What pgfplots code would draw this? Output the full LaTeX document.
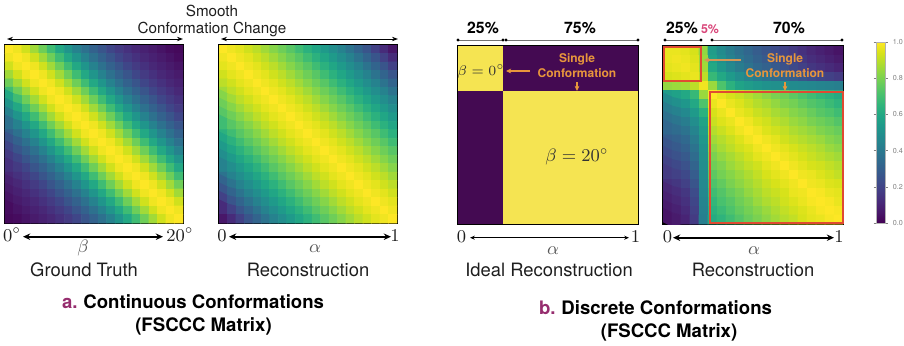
\documentclass[border=0pt]{standalone}
\usepackage{pgfplots}
\pgfplotsset{compat=1.18}
\usepackage{fontspec}
\setmainfont{TeX Gyre Heros}
\usetikzlibrary{arrows.meta}
\definecolor{orng}{HTML}{E8963C}
\definecolor{orng2}{HTML}{D49656}
\definecolor{rbox}{HTML}{E04A32}
\definecolor{pnk}{HTML}{D9467A}
\definecolor{plab}{HTML}{962D6E}
\definecolor{txt}{HTML}{1E1E1E}
\definecolor{vyel}{HTML}{F5E452}
\definecolor{vpur}{HTML}{440A52}
\newcommand{\fs}[2]{\fontsize{#1}{#2}\selectfont}
\pgfplotsset{
  hm/.style={anchor=north west, scale only axis, ticks=none,
    axis line style={line width=0.9pt, black},
    y dir=reverse, enlargelimits=false, colormap/viridis,
    point meta min=0, point meta max=1},
}
\begin{document}
\begin{tikzpicture}
% ---------------- Panel a1: Ground Truth ----------------
\begin{axis}[hm, at={(2.5pt,-22.5pt)}, width=89pt, height=89pt,
  xmin=-0.5, xmax=20.5, ymin=-0.5, ymax=20.5]
\addplot[matrix plot*, mesh/cols=21, point meta=explicit] table[header=false, row sep=\\,
  x expr={mod(\coordindex,21)}, y expr={floor(\coordindex/21)}, meta index=0]{
1.00\\0.98\\0.93\\0.86\\0.78\\0.69\\0.60\\0.52\\0.44\\0.37\\0.31\\0.26\\0.21\\0.17\\0.14\\0.11\\0.09\\0.07\\0.05\\0.03\\0.02\\
0.98\\1.00\\0.98\\0.93\\0.86\\0.78\\0.69\\0.60\\0.52\\0.44\\0.37\\0.31\\0.26\\0.21\\0.17\\0.14\\0.11\\0.09\\0.07\\0.05\\0.03\\
0.93\\0.98\\1.00\\0.98\\0.93\\0.86\\0.78\\0.69\\0.60\\0.52\\0.44\\0.37\\0.31\\0.26\\0.21\\0.17\\0.14\\0.11\\0.09\\0.07\\0.05\\
0.86\\0.93\\0.98\\1.00\\0.98\\0.93\\0.86\\0.78\\0.69\\0.60\\0.52\\0.44\\0.37\\0.31\\0.26\\0.21\\0.17\\0.14\\0.11\\0.09\\0.07\\
0.78\\0.86\\0.93\\0.98\\1.00\\0.98\\0.93\\0.86\\0.78\\0.69\\0.60\\0.52\\0.44\\0.37\\0.31\\0.26\\0.21\\0.17\\0.14\\0.11\\0.09\\
0.69\\0.78\\0.86\\0.93\\0.98\\1.00\\0.98\\0.93\\0.86\\0.78\\0.69\\0.60\\0.52\\0.44\\0.37\\0.31\\0.26\\0.21\\0.17\\0.14\\0.11\\
0.60\\0.69\\0.78\\0.86\\0.93\\0.98\\1.00\\0.98\\0.93\\0.86\\0.78\\0.69\\0.60\\0.52\\0.44\\0.37\\0.31\\0.26\\0.21\\0.17\\0.14\\
0.52\\0.60\\0.69\\0.78\\0.86\\0.93\\0.98\\1.00\\0.98\\0.93\\0.86\\0.78\\0.69\\0.60\\0.52\\0.44\\0.37\\0.31\\0.26\\0.21\\0.17\\
0.44\\0.52\\0.60\\0.69\\0.78\\0.86\\0.93\\0.98\\1.00\\0.98\\0.93\\0.86\\0.78\\0.69\\0.60\\0.52\\0.44\\0.37\\0.31\\0.26\\0.21\\
0.37\\0.44\\0.52\\0.60\\0.69\\0.78\\0.86\\0.93\\0.98\\1.00\\0.98\\0.93\\0.86\\0.78\\0.69\\0.60\\0.52\\0.44\\0.37\\0.31\\0.26\\
0.31\\0.37\\0.44\\0.52\\0.60\\0.69\\0.78\\0.86\\0.93\\0.98\\1.00\\0.98\\0.93\\0.86\\0.78\\0.69\\0.60\\0.52\\0.44\\0.37\\0.31\\
0.26\\0.31\\0.37\\0.44\\0.52\\0.60\\0.69\\0.78\\0.86\\0.93\\0.98\\1.00\\0.98\\0.93\\0.86\\0.78\\0.69\\0.60\\0.52\\0.44\\0.37\\
0.21\\0.26\\0.31\\0.37\\0.44\\0.52\\0.60\\0.69\\0.78\\0.86\\0.93\\0.98\\1.00\\0.98\\0.93\\0.86\\0.78\\0.69\\0.60\\0.52\\0.44\\
0.17\\0.21\\0.26\\0.31\\0.37\\0.44\\0.52\\0.60\\0.69\\0.78\\0.86\\0.93\\0.98\\1.00\\0.98\\0.93\\0.86\\0.78\\0.69\\0.60\\0.52\\
0.14\\0.17\\0.21\\0.26\\0.31\\0.37\\0.44\\0.52\\0.60\\0.69\\0.78\\0.86\\0.93\\0.98\\1.00\\0.98\\0.93\\0.86\\0.78\\0.69\\0.60\\
0.11\\0.14\\0.17\\0.21\\0.26\\0.31\\0.37\\0.44\\0.52\\0.60\\0.69\\0.78\\0.86\\0.93\\0.98\\1.00\\0.98\\0.93\\0.86\\0.78\\0.69\\
0.09\\0.11\\0.14\\0.17\\0.21\\0.26\\0.31\\0.37\\0.44\\0.52\\0.60\\0.69\\0.78\\0.86\\0.93\\0.98\\1.00\\0.98\\0.93\\0.86\\0.78\\
0.07\\0.09\\0.11\\0.14\\0.17\\0.21\\0.26\\0.31\\0.37\\0.44\\0.52\\0.60\\0.69\\0.78\\0.86\\0.93\\0.98\\1.00\\0.98\\0.93\\0.86\\
0.05\\0.07\\0.09\\0.11\\0.14\\0.17\\0.21\\0.26\\0.31\\0.37\\0.44\\0.52\\0.60\\0.69\\0.78\\0.86\\0.93\\0.98\\1.00\\0.98\\0.93\\
0.03\\0.05\\0.07\\0.09\\0.11\\0.14\\0.17\\0.21\\0.26\\0.31\\0.37\\0.44\\0.52\\0.60\\0.69\\0.78\\0.86\\0.93\\0.98\\1.00\\0.98\\
0.02\\0.03\\0.05\\0.07\\0.09\\0.11\\0.14\\0.17\\0.21\\0.26\\0.31\\0.37\\0.44\\0.52\\0.60\\0.69\\0.78\\0.86\\0.93\\0.98\\1.00\\
};
\end{axis}
% ---------------- Panel a2: Reconstruction ----------------
\begin{axis}[hm, at={(109.5pt,-22.5pt)}, width=89pt, height=89pt,
  xmin=-0.5, xmax=20.5, ymin=-0.5, ymax=20.5]
\addplot[matrix plot*, mesh/cols=21, point meta=explicit] table[header=false, row sep=\\,
  x expr={mod(\coordindex,21)}, y expr={floor(\coordindex/21)}, meta index=0]{
1.00\\0.98\\0.96\\0.93\\0.90\\0.86\\0.82\\0.78\\0.74\\0.69\\0.64\\0.59\\0.54\\0.49\\0.44\\0.38\\0.32\\0.26\\0.19\\0.12\\0.06\\
0.98\\1.00\\0.98\\0.96\\0.93\\0.90\\0.86\\0.82\\0.78\\0.74\\0.69\\0.64\\0.59\\0.54\\0.49\\0.44\\0.38\\0.32\\0.26\\0.19\\0.12\\
0.96\\0.98\\1.00\\0.98\\0.96\\0.93\\0.90\\0.86\\0.82\\0.78\\0.74\\0.69\\0.64\\0.59\\0.54\\0.49\\0.44\\0.38\\0.32\\0.26\\0.19\\
0.93\\0.96\\0.98\\1.00\\0.98\\0.96\\0.93\\0.90\\0.86\\0.82\\0.78\\0.74\\0.69\\0.64\\0.59\\0.54\\0.49\\0.44\\0.38\\0.32\\0.26\\
0.90\\0.93\\0.96\\0.98\\1.00\\0.98\\0.96\\0.93\\0.90\\0.86\\0.82\\0.78\\0.74\\0.69\\0.64\\0.59\\0.54\\0.49\\0.44\\0.38\\0.32\\
0.86\\0.90\\0.93\\0.96\\0.98\\1.00\\0.98\\0.96\\0.93\\0.90\\0.86\\0.82\\0.78\\0.74\\0.69\\0.64\\0.59\\0.54\\0.49\\0.44\\0.38\\
0.82\\0.86\\0.90\\0.93\\0.96\\0.98\\1.00\\0.98\\0.96\\0.93\\0.90\\0.86\\0.82\\0.78\\0.74\\0.69\\0.64\\0.59\\0.54\\0.49\\0.44\\
0.78\\0.82\\0.86\\0.90\\0.93\\0.96\\0.98\\1.00\\0.98\\0.96\\0.93\\0.90\\0.86\\0.82\\0.78\\0.74\\0.69\\0.64\\0.59\\0.54\\0.49\\
0.74\\0.78\\0.82\\0.86\\0.90\\0.93\\0.96\\0.98\\1.00\\0.98\\0.96\\0.93\\0.90\\0.86\\0.82\\0.78\\0.74\\0.69\\0.64\\0.59\\0.54\\
0.69\\0.74\\0.78\\0.82\\0.86\\0.90\\0.93\\0.96\\0.98\\1.00\\0.98\\0.96\\0.93\\0.90\\0.86\\0.82\\0.78\\0.74\\0.69\\0.64\\0.59\\
0.64\\0.69\\0.74\\0.78\\0.82\\0.86\\0.90\\0.93\\0.96\\0.98\\1.00\\0.98\\0.96\\0.93\\0.90\\0.86\\0.82\\0.78\\0.74\\0.69\\0.64\\
0.59\\0.64\\0.69\\0.74\\0.78\\0.82\\0.86\\0.90\\0.93\\0.96\\0.98\\1.00\\0.98\\0.96\\0.93\\0.90\\0.86\\0.82\\0.78\\0.74\\0.69\\
0.54\\0.59\\0.64\\0.69\\0.74\\0.78\\0.82\\0.86\\0.90\\0.93\\0.96\\0.98\\1.00\\0.98\\0.96\\0.93\\0.90\\0.86\\0.82\\0.78\\0.74\\
0.49\\0.54\\0.59\\0.64\\0.69\\0.74\\0.78\\0.82\\0.86\\0.90\\0.93\\0.96\\0.98\\1.00\\0.98\\0.96\\0.93\\0.90\\0.86\\0.82\\0.78\\
0.44\\0.49\\0.54\\0.59\\0.64\\0.69\\0.74\\0.78\\0.82\\0.86\\0.90\\0.93\\0.96\\0.98\\1.00\\0.98\\0.96\\0.93\\0.90\\0.86\\0.82\\
0.38\\0.44\\0.49\\0.54\\0.59\\0.64\\0.69\\0.74\\0.78\\0.82\\0.86\\0.90\\0.93\\0.96\\0.98\\1.00\\0.98\\0.96\\0.93\\0.90\\0.86\\
0.32\\0.38\\0.44\\0.49\\0.54\\0.59\\0.64\\0.69\\0.74\\0.78\\0.82\\0.86\\0.90\\0.93\\0.96\\0.98\\1.00\\0.98\\0.96\\0.93\\0.90\\
0.26\\0.32\\0.38\\0.44\\0.49\\0.54\\0.59\\0.64\\0.69\\0.74\\0.78\\0.82\\0.86\\0.90\\0.93\\0.96\\0.98\\1.00\\0.98\\0.96\\0.93\\
0.19\\0.26\\0.32\\0.38\\0.44\\0.49\\0.54\\0.59\\0.64\\0.69\\0.74\\0.78\\0.82\\0.86\\0.90\\0.93\\0.96\\0.98\\1.00\\0.98\\0.96\\
0.12\\0.19\\0.26\\0.32\\0.38\\0.44\\0.49\\0.54\\0.59\\0.64\\0.69\\0.74\\0.78\\0.82\\0.86\\0.90\\0.93\\0.96\\0.98\\1.00\\0.98\\
0.06\\0.12\\0.19\\0.26\\0.32\\0.38\\0.44\\0.49\\0.54\\0.59\\0.64\\0.69\\0.74\\0.78\\0.82\\0.86\\0.90\\0.93\\0.96\\0.98\\1.00\\
};
\end{axis}
% ---------------- Panel b1: Ideal Reconstruction (blocks, alpha in [0,1]) ----------------
\begin{axis}[hm, at={(229pt,-23pt)}, width=90pt, height=89pt,
  xmin=0, xmax=1, ymin=0, ymax=1]
\addplot[fill=vyel, draw=none] coordinates {(0,0) (0.25,0) (0.25,0.25) (0,0.25)} -- cycle;
\addplot[fill=vpur, draw=none] coordinates {(0.25,0) (1,0) (1,0.25) (0.25,0.25)} -- cycle;
\addplot[fill=vpur, draw=none] coordinates {(0,0.25) (0.25,0.25) (0.25,1) (0,1)} -- cycle;
\addplot[fill=vyel, draw=none] coordinates {(0.25,0.25) (1,0.25) (1,1) (0.25,1)} -- cycle;
\end{axis}
% ---------------- Panel b2: Reconstruction ----------------
\begin{axis}[hm, at={(331.5pt,-23pt)}, width=90pt, height=89pt,
  xmin=-0.5, xmax=19.5, ymin=-0.5, ymax=19.5,
  colorbar, colorbar style={at={(parent axis.north east)}, anchor=north west,
    xshift=8pt, yshift=2pt, width=4.6pt, height=90.5pt, scale only axis,
    ytick={0,0.2,0.4,0.6,0.8,1}, tick align=outside, major tick length=1.2pt,
    tick style={gray, line width=0.3pt}, axis line style={gray!60, line width=0.3pt},
    yticklabel style={font=\fs{3.6}{4}, text=gray, xshift=-1pt,
      /pgf/number format/.cd, fixed, fixed zerofill, precision=1, assume math mode=true}}]
\addplot[matrix plot*, mesh/cols=20, point meta=explicit] table[header=false, row sep=\\,
  x expr={mod(\coordindex,20)}, y expr={floor(\coordindex/20)}, meta index=0]{
0.97\\0.97\\0.96\\0.94\\0.84\\0.55\\0.48\\0.42\\0.37\\0.33\\0.29\\0.26\\0.23\\0.20\\0.17\\0.14\\0.11\\0.09\\0.07\\0.05\\
0.97\\0.98\\0.97\\0.95\\0.85\\0.57\\0.50\\0.44\\0.39\\0.35\\0.31\\0.28\\0.25\\0.22\\0.19\\0.16\\0.13\\0.11\\0.09\\0.07\\
0.96\\0.97\\0.98\\0.96\\0.86\\0.60\\0.53\\0.47\\0.42\\0.38\\0.34\\0.31\\0.28\\0.25\\0.22\\0.19\\0.16\\0.14\\0.12\\0.10\\
0.94\\0.95\\0.96\\0.97\\0.90\\0.67\\0.60\\0.54\\0.49\\0.45\\0.41\\0.38\\0.35\\0.32\\0.29\\0.26\\0.23\\0.21\\0.19\\0.17\\
0.84\\0.85\\0.86\\0.90\\0.98\\0.85\\0.72\\0.64\\0.58\\0.55\\0.53\\0.51\\0.50\\0.49\\0.48\\0.47\\0.46\\0.45\\0.44\\0.43\\
0.55\\0.57\\0.60\\0.67\\0.85\\1.00\\0.97\\0.94\\0.92\\0.89\\0.86\\0.83\\0.80\\0.78\\0.75\\0.72\\0.69\\0.66\\0.64\\0.61\\
0.48\\0.50\\0.53\\0.60\\0.72\\0.97\\1.00\\0.97\\0.95\\0.92\\0.89\\0.87\\0.84\\0.81\\0.79\\0.76\\0.73\\0.71\\0.68\\0.65\\
0.42\\0.44\\0.47\\0.54\\0.64\\0.94\\0.97\\1.00\\0.97\\0.95\\0.92\\0.90\\0.87\\0.85\\0.82\\0.80\\0.77\\0.74\\0.72\\0.69\\
0.37\\0.39\\0.42\\0.49\\0.58\\0.92\\0.95\\0.97\\1.00\\0.98\\0.95\\0.93\\0.90\\0.88\\0.85\\0.83\\0.80\\0.78\\0.76\\0.73\\
0.33\\0.35\\0.38\\0.45\\0.55\\0.89\\0.92\\0.95\\0.98\\1.00\\0.98\\0.95\\0.93\\0.91\\0.88\\0.86\\0.84\\0.81\\0.79\\0.77\\
0.29\\0.31\\0.34\\0.41\\0.53\\0.86\\0.89\\0.92\\0.95\\0.98\\1.00\\0.98\\0.96\\0.93\\0.91\\0.89\\0.87\\0.85\\0.82\\0.80\\
0.26\\0.28\\0.31\\0.38\\0.51\\0.83\\0.87\\0.90\\0.93\\0.95\\0.98\\1.00\\0.98\\0.96\\0.94\\0.92\\0.90\\0.88\\0.85\\0.83\\
0.23\\0.25\\0.28\\0.35\\0.50\\0.80\\0.84\\0.87\\0.90\\0.93\\0.96\\0.98\\1.00\\0.98\\0.96\\0.94\\0.92\\0.90\\0.88\\0.86\\
0.20\\0.22\\0.25\\0.32\\0.49\\0.78\\0.81\\0.85\\0.88\\0.91\\0.93\\0.96\\0.98\\1.00\\0.98\\0.96\\0.94\\0.93\\0.91\\0.89\\
0.17\\0.19\\0.22\\0.29\\0.48\\0.75\\0.79\\0.82\\0.85\\0.88\\0.91\\0.94\\0.96\\0.98\\1.00\\0.98\\0.97\\0.95\\0.93\\0.91\\
0.14\\0.16\\0.19\\0.26\\0.47\\0.72\\0.76\\0.80\\0.83\\0.86\\0.89\\0.92\\0.94\\0.96\\0.98\\1.00\\0.98\\0.97\\0.95\\0.94\\
0.11\\0.13\\0.16\\0.23\\0.46\\0.69\\0.73\\0.77\\0.80\\0.84\\0.87\\0.90\\0.92\\0.94\\0.97\\0.98\\1.00\\0.99\\0.97\\0.96\\
0.09\\0.11\\0.14\\0.21\\0.45\\0.66\\0.71\\0.74\\0.78\\0.81\\0.85\\0.88\\0.90\\0.93\\0.95\\0.97\\0.99\\1.00\\0.99\\0.97\\
0.07\\0.09\\0.12\\0.19\\0.44\\0.64\\0.68\\0.72\\0.76\\0.79\\0.82\\0.85\\0.88\\0.91\\0.93\\0.95\\0.97\\0.99\\1.00\\0.99\\
0.05\\0.07\\0.10\\0.17\\0.43\\0.61\\0.65\\0.69\\0.73\\0.77\\0.80\\0.83\\0.86\\0.89\\0.91\\0.94\\0.96\\0.97\\0.99\\1.00\\
};
\end{axis}
% ---------------- Annotations (pixel coordinates) ----------------
\begin{scope}[x=0.5pt,y=-0.5pt]
% top smooth-change arrows
\draw[line width=0.45pt, {Stealth[length=3pt,width=2.2pt]}-{Stealth[length=3pt,width=2.2pt]}] (7,39) -- (183,39);
\draw[line width=0.45pt, {Stealth[length=3pt,width=2.2pt]}-{Stealth[length=3pt,width=2.2pt]}] (221,39) -- (398,39);
\node[anchor=base, inner sep=0, font=\fs{7.6}{8.5}, text=txt] at (212,16.7) {Smooth};
\node[anchor=base, inner sep=0, font=\fs{7.6}{8.5}, text=txt] at (212,33) {Conformation Change};
% bottom axes arrows
\draw[line width=0.8pt, {Stealth[length=3.6pt,width=3.2pt]}-{Stealth[length=3.6pt,width=3.2pt]}] (23,236.7) -- (163,236.7);
\draw[line width=0.8pt, {Stealth[length=3.6pt,width=3.2pt]}-{Stealth[length=3.6pt,width=3.2pt]}] (229,236.7) -- (391,236.7);
\draw[line width=0.4pt, {Stealth[length=2.4pt,width=2pt]}-{Stealth[length=2.4pt,width=2pt]}] (470,237.7) -- (629,237.7);
\draw[line width=0.8pt, {Stealth[length=3.6pt,width=3.2pt]}-{Stealth[length=3.6pt,width=3.2pt]}] (673,237.7) -- (834,237.7);
\node[anchor=base, inner sep=0, font=\fs{9}{10}, text=txt] at (12,241.5) {$0^\circ$};
\node[anchor=base, inner sep=0, font=\fs{9}{10}, text=txt] at (180,241.5) {$20^\circ$};
\node[anchor=base, inner sep=0, font=\fs{9}{10}, text=txt] at (222,241.5) {$0$};
\node[anchor=base, inner sep=0, font=\fs{9}{10}, text=txt] at (395,241.5) {$1$};
\node[anchor=base, inner sep=0, font=\fs{9}{10}, text=txt] at (461.5,242.5) {$0$};
\node[anchor=base, inner sep=0, font=\fs{9}{10}, text=txt] at (635.5,242.5) {$1$};
\node[anchor=base, inner sep=0, font=\fs{9}{10}, text=txt] at (667.5,242.5) {$0$};
\node[anchor=base, inner sep=0, font=\fs{9}{10}, text=txt] at (839,242.5) {$1$};
\node[anchor=base, inner sep=0, font=\fs{9}{10}, text=black!65] at (83,252) {$\beta$};
\node[anchor=base, inner sep=0, font=\fs{9}{10}, text=black!65] at (315,252) {$\alpha$};
\node[anchor=base, inner sep=0, font=\fs{9}{10}, text=black!65] at (553,254) {$\alpha$};
\node[anchor=base, inner sep=0, font=\fs{9}{10}, text=black!65] at (754,254) {$\alpha$};
% panel names
\node[anchor=base, inner sep=0, font=\fs{9.2}{11}, text=txt] at (84,276) {Ground Truth};
\node[anchor=base, inner sep=0, font=\fs{9.2}{11}, text=txt] at (308,276) {Reconstruction};
\node[anchor=base, inner sep=0, font=\fs{9.2}{11}, text=txt] at (549,276) {Ideal Reconstruction};
\node[anchor=base, inner sep=0, font=\fs{9.2}{11}, text=txt] at (753,276) {Reconstruction};
% titles
\node[anchor=base east, inner sep=0, font=\fs{9.3}{11}\bfseries, text=plab] at (78,308) {a.};
\node[anchor=base west, inner sep=0, font=\fs{9.3}{11}\bfseries, text=black] at (83,308) {Continuous Conformations};
\node[anchor=base, inner sep=0, font=\fs{9.3}{11}\bfseries, text=black] at (203.5,331) {(FSCCC Matrix)};
\node[anchor=base east, inner sep=0, font=\fs{9.3}{11}\bfseries, text=plab] at (556,314) {b.};
\node[anchor=base west, inner sep=0, font=\fs{9.3}{11}\bfseries, text=black] at (561,314) {Discrete Conformations};
\node[anchor=base, inner sep=0, font=\fs{9.3}{11}\bfseries, text=black] at (669,337) {(FSCCC Matrix)};
% percentage bars
\draw[black!55, line width=0.5pt] (458,40) -- (503,40) (506,40) -- (638,40);
\draw[black!55, line width=0.5pt] (665,40) -- (701,40) (712,40) -- (842,40);
\foreach \xx in {458,503,506,638,665,701,712,842} \fill[black] (\xx,40) circle[radius=1.7];
\node[anchor=base, inner sep=0, font=\fs{7.9}{9}\bfseries] at (483,33) {25\%};
\node[anchor=base, inner sep=0, font=\fs{7.9}{9}\bfseries] at (580,33) {75\%};
\node[anchor=base, inner sep=0, font=\fs{7.9}{9}\bfseries] at (682,33) {25\%};
\node[anchor=base, inner sep=0, font=\fs{6.2}{7}\bfseries, text=pnk] at (710,33) {5\%};
\node[anchor=base, inner sep=0, font=\fs{7.9}{9}\bfseries] at (789,33) {70\%};
% panel b1 labels
\node[inner sep=0, font=\fs{7.5}{9}, text=black!80] at (481,71) {$\beta=0^\circ$};
\node[inner sep=0, font=\fs{8.6}{10}, text=black!80] at (577,157) {$\beta=20^\circ$};
\node[anchor=base, inner sep=0, font=\fs{6}{7.5}\bfseries, text=orng] at (577,62) {Single};
\node[anchor=base, inner sep=0, font=\fs{6}{7.5}\bfseries, text=orng] at (577,77) {Conformation};
\draw[orng, line width=0.6pt, -{Stealth[length=2.6pt,width=2.4pt]}] (530,71) -- (506,71);
\draw[orng, line width=0.6pt, -{Stealth[length=2.6pt,width=2.4pt]}] (577,82) -- (577,91);
% panel b2 labels
\draw[rbox, line width=1pt] (664,46.5) rectangle (701,81);
\draw[rbox, line width=1pt] (710,92) rectangle (842.5,223);
\node[anchor=base, inner sep=0, font=\fs{6}{7.5}\bfseries, text=orng] at (785,62) {Single};
\node[anchor=base, inner sep=0, font=\fs{6}{7.5}\bfseries, text=orng] at (785,77) {Conformation};
\draw[orng2, line width=0.6pt, -{Stealth[length=2.6pt,width=2.4pt]}] (741,60) -- (704,60);
\draw[orng, line width=0.6pt, -{Stealth[length=2.6pt,width=2.4pt]}] (785,82) -- (785,91);
% fixed picture size: 904 x 345 px
\pgfresetboundingbox
\path[use as bounding box] (0,0) rectangle (904,345);
\end{scope}
\end{tikzpicture}
\end{document}
